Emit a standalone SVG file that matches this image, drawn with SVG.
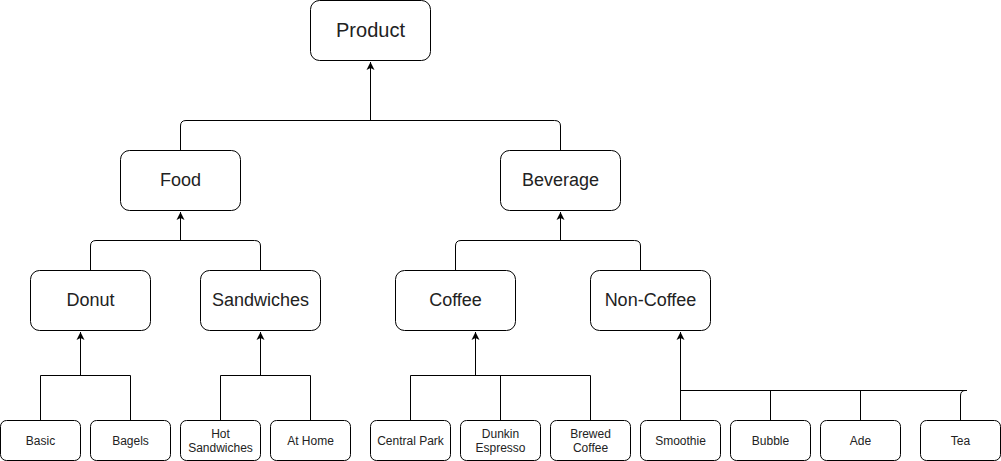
<svg xmlns="http://www.w3.org/2000/svg" width="1001" height="461" viewBox="0 0 1001 461">
<defs>
<marker id="arr" markerWidth="10" markerHeight="10" refX="8" refY="5" orient="auto" markerUnits="userSpaceOnUse">
<path d="M0,1 L8,5 L0,9 L2,5 Z" fill="#000"/>
</marker>
<style>
.box{fill:#fff;stroke:#000;stroke-width:1}
.t{font-family:"Liberation Sans",Arial,sans-serif;fill:#222;text-anchor:middle}
.big{font-size:18px}
.sm{font-size:12px}
.c{fill:none;stroke:#000;stroke-width:1}
</style>
</defs>
<rect width="1001" height="461" fill="#fff"/>
<g id="connectors">
<path class="c" d="M180.5,150 L180.5,126 Q180.5,120.5 186,120.5 L554.5,120.5 Q560.5,120.5 560.5,126 L560.5,150"/>
<path class="c" d="M370.5,120.5 L370.5,62" marker-end="url(#arr)"/>
<path class="c" d="M90.5,270 L90.5,246 Q90.5,240.5 96,240.5 L254.5,240.5 Q260.5,240.5 260.5,246 L260.5,270"/>
<path class="c" d="M180.5,240.5 L180.5,212" marker-end="url(#arr)"/>
<path class="c" d="M455.5,270 L455.5,246 Q455.5,240.5 461,240.5 L634.5,240.5 Q640.5,240.5 640.5,246 L640.5,270"/>
<path class="c" d="M560.5,240.5 L560.5,212" marker-end="url(#arr)"/>
<path class="c" d="M40.5,420 L40.5,375.5 L130.5,375.5 L130.5,420"/>
<path class="c" d="M80.5,375.5 L80.5,332" marker-end="url(#arr)"/>
<path class="c" d="M220.5,420 L220.5,375.5 L310.5,375.5 L310.5,420"/>
<path class="c" d="M260.5,375.5 L260.5,332" marker-end="url(#arr)"/>
<path class="c" d="M410.5,420 L410.5,375.5 L590.5,375.5 L590.5,420"/>
<path class="c" d="M500.5,375.5 L500.5,420"/>
<path class="c" d="M475.5,375.5 L475.5,332" marker-end="url(#arr)"/>
<path class="c" d="M680.5,420 L680.5,332" marker-end="url(#arr)"/>
<path class="c" d="M680.5,390.5 L967,390.5"/>
<path class="c" d="M770.5,390.5 L770.5,420"/>
<path class="c" d="M860.5,390.5 L860.5,420"/>
<path class="c" d="M960.5,420 L960.5,396 Q960.5,390.5 965,390.5"/>
</g>
<g id="product"><rect class="box" x="310.5" y="0.5" width="120" height="60" rx="9"/><text class="t" x="370.5" y="37" font-size="20">Product</text></g>
<g id="food"><rect class="box" x="120.5" y="150.5" width="120" height="60" rx="9"/><text class="t big" x="180.5" y="185.5">Food</text></g>
<g id="beverage"><rect class="box" x="500.5" y="150.5" width="120" height="60" rx="9"/><text class="t big" x="560.5" y="185.5">Beverage</text></g>
<g id="donut"><rect class="box" x="30.5" y="270.5" width="120" height="60" rx="9"/><text class="t big" x="90.5" y="305.5">Donut</text></g>
<g id="sandwiches"><rect class="box" x="200.5" y="270.5" width="120" height="60" rx="9"/><text class="t big" x="260.5" y="305.5">Sandwiches</text></g>
<g id="coffee"><rect class="box" x="395.5" y="270.5" width="120" height="60" rx="9"/><text class="t big" x="455.5" y="305.5">Coffee</text></g>
<g id="noncoffee"><rect class="box" x="590.5" y="270.5" width="120" height="60" rx="9"/><text class="t big" x="650.5" y="305.5">Non-Coffee</text></g>
<g id="basic"><rect class="box" x="0.5" y="420.5" width="80" height="40" rx="6"/><text class="t sm" x="40.5" y="445">Basic</text></g>
<g id="bagels"><rect class="box" x="90.5" y="420.5" width="80" height="40" rx="6"/><text class="t sm" x="130.5" y="445">Bagels</text></g>
<g id="hotsandwiches"><rect class="box" x="180.5" y="420.5" width="80" height="40" rx="6"/><text class="t sm" x="220.5" y="438">Hot</text><text class="t sm" x="220.5" y="452">Sandwiches</text></g>
<g id="athome"><rect class="box" x="270.5" y="420.5" width="80" height="40" rx="6"/><text class="t sm" x="310.5" y="445">At Home</text></g>
<g id="centralpark"><rect class="box" x="370.5" y="420.5" width="80" height="40" rx="6"/><text class="t sm" x="410.5" y="445">Central Park</text></g>
<g id="dunkin"><rect class="box" x="460.5" y="420.5" width="80" height="40" rx="6"/><text class="t sm" x="500.5" y="438">Dunkin</text><text class="t sm" x="500.5" y="452">Espresso</text></g>
<g id="brewed"><rect class="box" x="550.5" y="420.5" width="80" height="40" rx="6"/><text class="t sm" x="590.5" y="438">Brewed</text><text class="t sm" x="590.5" y="452">Coffee</text></g>
<g id="smoothie"><rect class="box" x="640.5" y="420.5" width="80" height="40" rx="6"/><text class="t sm" x="680.5" y="445">Smoothie</text></g>
<g id="bubble"><rect class="box" x="730.5" y="420.5" width="80" height="40" rx="6"/><text class="t sm" x="770.5" y="445">Bubble</text></g>
<g id="ade"><rect class="box" x="820.5" y="420.5" width="80" height="40" rx="6"/><text class="t sm" x="860.5" y="445">Ade</text></g>
<g id="tea"><rect class="box" x="920.5" y="420.5" width="80" height="40" rx="6"/><text class="t sm" x="960.5" y="445">Tea</text></g>
</svg>
